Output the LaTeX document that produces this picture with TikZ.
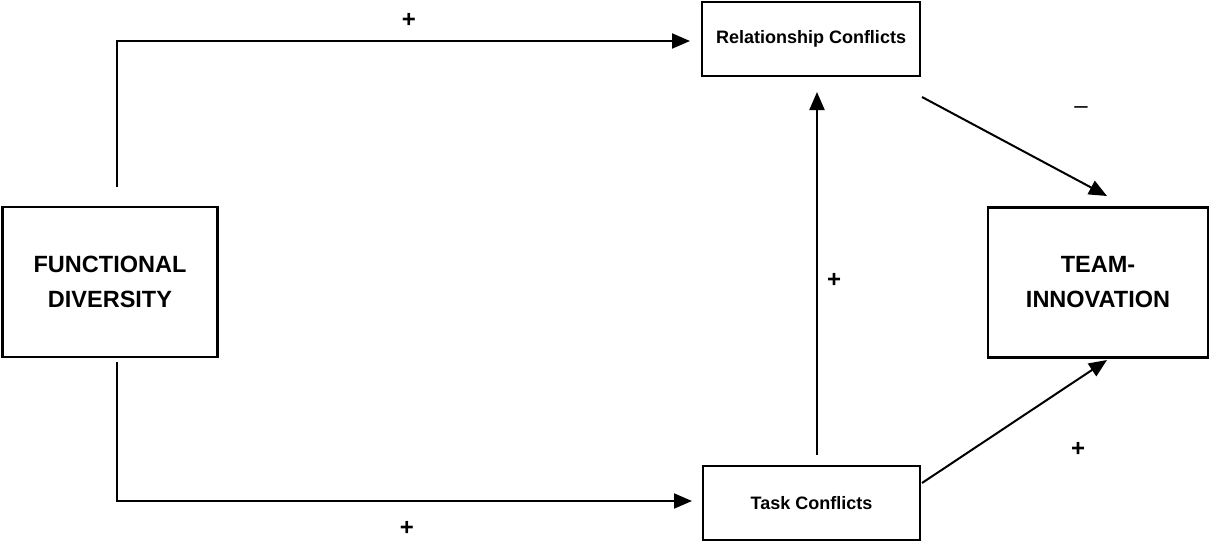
\documentclass[tikz,border=0pt]{standalone}
\usepackage{fontspec}
\setmainfont{Liberation Sans}
\usetikzlibrary{arrows.meta}
\begin{document}
\begin{tikzpicture}[x=1pt,y=-1pt,
  box/.style={draw,line width=2.2pt,inner sep=0pt,align=center},
  conn/.style={line width=2pt,-{Triangle[length=18pt,width=15pt]}},
  sign/.style={font=\fontsize{24}{26}\selectfont\bfseries}]
\useasboundingbox (0,0) rectangle (1212,543);
\node[box,minimum width=215pt,minimum height=150pt,font=\fontsize{23.5}{35}\selectfont\bfseries] (fd) at (110,282) {FUNCTIONAL\\DIVERSITY};
\node[box,minimum width=220pt,minimum height=150pt,font=\fontsize{23.5}{35}\selectfont\bfseries] (ti) at (1098,282.5) {TEAM-\\INNOVATION};
\node[box,minimum width=218pt,minimum height=74pt,font=\fontsize{18}{22}\selectfont\bfseries] (rc) at (811,39) {Relationship Conflicts};
\node[box,minimum width=217pt,minimum height=74pt,font=\fontsize{18}{22}\selectfont\bfseries] (tc) at (811.5,503) {Task Conflicts};
\coordinate (t0) at (117,187);
\coordinate (t1) at (117,41);
\coordinate (t2) at (690,41);
\coordinate (b0) at (117,362);
\coordinate (b1) at (117,501);
\coordinate (b2) at (692,501);
\coordinate (v0) at (817,455);
\coordinate (v1) at (817,92);
\coordinate (d0) at (922,97);
\coordinate (d1) at (1107,196);
\coordinate (e0) at (922,483);
\coordinate (e1) at (1107,360);
\draw[conn] (t0) -- (t1) -- (t2);
\draw[conn] (b0) -- (b1) -- (b2);
\draw[conn] (v0) -- (v1);
\draw[conn] (d0) -- (d1);
\draw[conn] (e0) -- (e1);
\node[sign] (s1) at (409,20) {+};
\node[sign] (s2) at (407,528) {+};
\node[sign] (s3) at (834,280) {+};
\node[font=\fontsize{24}{26}\selectfont] (s4) at (1081,110) {--};
\node[sign] (s5) at (1078,449) {+};
\end{tikzpicture}
\end{document}
